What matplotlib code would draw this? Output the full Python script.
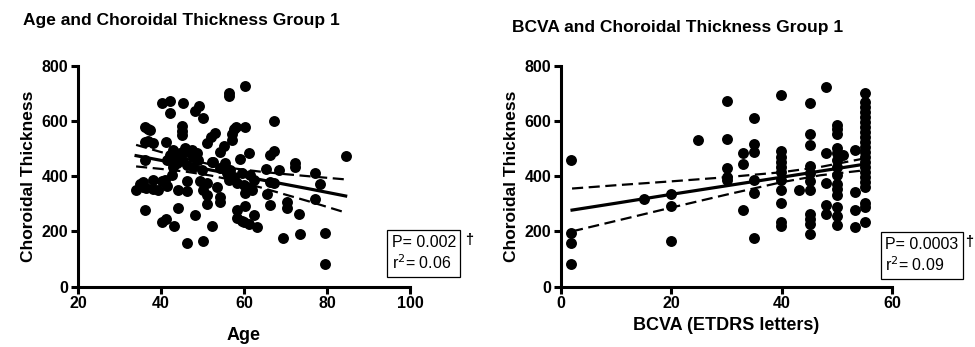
import matplotlib
matplotlib.use("Agg")
import matplotlib.pyplot as plt

# valori
eta = [33.9, 34.9, 35.6, 36.4, 36.1, 36.9, 37.3, 36.1, 36.9, 36.1, 36.1, 38.1, 38.1, 38.1,
       40.2, 42.2, 42.2, 45.2, 41.2, 40.2, 41.0, 41.4, 40.2, 41.2, 43.2, 44.2, 46.2, 50.2,
       48.2, 48.2, 49.2, 50.2, 45.1, 45.1, 45.1, 41.4, 42.2, 43.0, 43.4, 43.8, 44.6, 45.0,
       45.8, 46.6, 47.4, 47.8, 48.6, 49.0, 46.2, 47.8, 43.0, 42.6, 44.2, 46.2, 46.2, 49.3,
       51.0, 52.0, 53.0, 51.0, 51.0, 51.0, 52.2, 52.2, 53.5, 54.3, 54.3, 54.3, 55.2, 54.3,
       55.1, 56.3, 56.3, 57.1, 57.6, 58.1, 57.2, 55.9, 56.7, 57.5, 56.3, 58.3, 58.3, 59.5,
       60.3, 60.3, 60.3, 60.3, 59.1, 59.9, 61.1, 60.7, 61.9, 62.3, 59.9, 61.1, 62.3, 63.1,
       65.5, 66.3, 67.2, 66.2, 67.2, 68.4, 65.4, 66.3, 67.2, 70.4, 70.4, 69.4, 72.4, 72.4,
       73.2, 73.4, 77.2, 77.2, 78.4, 79.4, 79.5, 84.5, 35.7, 39.3, 49.8, 50.2, 52.5, 55.5,
       57.1, 58.3, 59.5, 61.5]
spessore_eta = [349, 370, 361, 357, 578, 572, 566, 524, 527, 458, 277, 521, 386, 355,
                663, 672, 629, 665, 524, 383, 386, 364, 235, 243, 220, 286, 159, 166,
                261, 635, 653, 609, 582, 564, 547, 458, 476, 494, 464, 446, 482, 458,
                500, 488, 494, 470, 482, 458, 440, 434, 434, 404, 349, 346, 383, 383,
                518, 540, 557, 376, 331, 299, 452, 220, 361, 325, 307, 431, 428, 488,
                509, 701, 689, 554, 572, 578, 530, 410, 422, 398, 386, 277, 247, 237,
                725, 578, 293, 340, 461, 368, 482, 359, 349, 386, 235, 227, 259, 217,
                337, 295, 600, 476, 490, 422, 424, 380, 376, 307, 283, 177, 446, 434,
                263, 190, 410, 316, 371, 193, 81, 472, 380, 349, 422, 349, 452, 446,
                392, 374, 410, 404]

# retta di regressione e banda di confidenza (gruppo eta)
fit_eta_x = [34, 40, 46, 52, 58, 64, 70, 76, 84.5]
fit_eta_y = [474, 457, 439, 422, 405, 387, 370, 353, 328]
sup_eta_y = [513, 487, 463, 442, 427, 416, 407, 399, 388]
inf_eta_y = [435, 426, 416, 402, 383, 359, 333, 307, 268]

bcva = [1.9, 1.9, 1.9, 1.9, 15.0, 19.9, 19.9, 19.9, 24.9,
        30.1, 30.1, 30.1, 30.1, 30.1, 33.0, 33.0, 33.0,
        35.0, 35.0, 35.0, 35.0, 35.0, 35.0,
        39.9, 39.9, 39.9, 39.9, 39.9, 39.9, 39.9, 39.9, 39.9, 39.9, 39.9,
        43.1,
        45.1, 45.1, 45.1, 45.1, 45.1, 45.1, 45.1, 45.1, 45.1, 45.1, 45.1,
        48.1, 48.1, 48.1, 48.1, 48.1,
        50.1, 50.1, 50.1, 50.1, 50.1, 50.1, 50.1, 50.1, 50.1, 50.1, 50.1, 50.1, 50.1, 50.1,
        51.1, 53.2, 53.2, 53.2, 53.2,
        55.1, 55.1, 55.1, 55.1, 55.1, 55.1, 55.1, 55.1, 55.1, 55.1, 55.1, 55.1, 55.1,
        55.1, 55.1, 55.1, 55.1, 55.1, 55.1, 55.1, 55.1, 55.1]
spessore_bcva = [460, 195, 159, 82, 316, 337, 293, 166, 530,
                 672, 536, 428, 395, 386, 484, 443, 277,
                 609, 516, 488, 386, 340, 177,
                 693, 492, 470, 452, 434, 416, 386, 349, 304, 235, 219,
                 349,
                 663, 552, 512, 436, 410, 383, 349, 263, 243, 225, 190,
                 721, 482, 374, 295, 263,
                 584, 572, 554, 500, 482, 458, 434, 404, 371, 355, 331, 289, 255, 223,
                 476, 496, 343, 277, 217,
                 702, 669, 651, 633, 615, 596, 578, 560, 542, 524, 506, 488, 470,
                 452, 434, 416, 398, 380, 361, 304, 289, 235]

fit_bcva_x = [2, 10, 20, 30, 40, 47, 55]
fit_bcva_y = [277, 302, 334, 365, 396, 418, 443]
sup_bcva_y = [355, 367, 381, 396, 414, 433, 464]
inf_bcva_y = [200, 238, 286, 333, 378, 403, 421]

plt.rcParams['font.family'] = ['Liberation Sans', 'DejaVu Sans']


def pannello(ax, x, y, fx, fy, sup, inf, xlim, xticks, xlabel, pad_x, testo, pos_box):
    ax.scatter(x, y, s=62, color='black', zorder=3, linewidths=0)
    ax.plot(fx, fy, color='black', lw=2.3, zorder=4)
    ax.plot(fx, sup, color='black', lw=1.6, ls=(0, (5, 2.5)), zorder=4)
    ax.plot(fx, inf, color='black', lw=1.6, ls=(0, (5, 2.5)), zorder=4)
    ax.set_xlim(*xlim)
    ax.set_ylim(0, 800)
    ax.set_xticks(xticks)
    ax.set_yticks([0, 200, 400, 600, 800])
    for s in ['top', 'right']:
        ax.spines[s].set_visible(False)
    for s in ['left', 'bottom']:
        ax.spines[s].set_linewidth(2.2)
    ax.tick_params(width=2.2, length=5, labelsize=11.5, pad=2)
    for lab in ax.get_xticklabels() + ax.get_yticklabels():
        lab.set_fontweight('bold')
    ax.set_ylabel("Choroidal Thickness", fontsize=12.5, fontweight='bold', labelpad=4)
    ax.set_xlabel(xlabel, fontsize=13, fontweight='bold', labelpad=pad_x)
    ax.text(pos_box[0], pos_box[1], testo, transform=ax.transAxes, fontsize=11.5,
            va='center', ha='left', linespacing=1.25,
            bbox=dict(boxstyle='square,pad=0.28', fc='white', ec='black', lw=0.9))
    ax.text(pos_box[2], pos_box[3], "\u2020", transform=ax.transAxes, fontsize=10.5,
            fontweight='bold', va='center', ha='left')


fig = plt.figure(figsize=(9.75, 3.47), dpi=100)
ax1 = fig.add_axes([0.080, 0.174, 0.3405, 0.637])
ax2 = fig.add_axes([0.5754, 0.174, 0.3395, 0.637])

pannello(ax1, eta, spessore_eta, fit_eta_x, fit_eta_y, sup_eta_y, inf_eta_y,
         (20, 100), [20, 40, 60, 80, 100], "Age", 11.5,
         "P= 0.002\nr$^2$= 0.06", (0.945, 0.15, 1.165, 0.21))
pannello(ax2, bcva, spessore_bcva, fit_bcva_x, fit_bcva_y, sup_bcva_y, inf_bcva_y,
         (0, 60), [0, 20, 40, 60], "BCVA (ETDRS letters)", 4,
         "P= 0.0003\nr$^2$= 0.09", (0.98, 0.14, 1.222, 0.20))

fig.text(0.024, 0.942, "Age and Choroidal Thickness Group 1", fontsize=12.5,
         fontweight='bold', va='center', ha='left')
fig.text(0.525, 0.922, "BCVA and Choroidal Thickness Group 1", fontsize=12.5,
         fontweight='bold', va='center', ha='left')

fig.savefig("out.png", dpi=100)
